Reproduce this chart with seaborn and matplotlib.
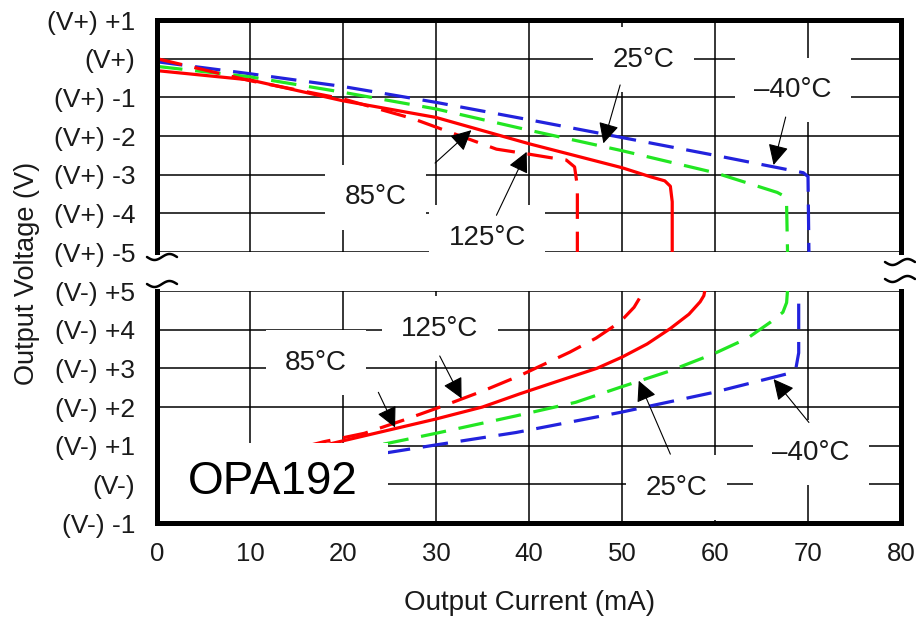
import numpy as np
import pandas as pd
import matplotlib
matplotlib.use("Agg")
import matplotlib.pyplot as plt
import seaborn as sns
from matplotlib.lines import Line2D
from matplotlib.patches import Rectangle

# ---------------- data ----------------
temps = ["-40°C", "25°C", "85°C", "125°C"]
colors = {"-40°C": "#2222dd", "25°C": "#22e622", "85°C": "#ff0000", "125°C": "#ff0000"}

# upper panel: output swing relative to V+ (sourcing)
top_i_m40 = [0, 10, 20, 30, 40, 50, 60, 69.5, 70.0, 70.1]
top_v_m40 = [-0.08, -0.39, -0.72, -1.13, -1.58, -2.04, -2.5, -2.95, -3.05, -5.0]
top_i_25 = [0, 10, 20, 30, 40, 50, 60, 66.7, 67.4, 67.7, 67.8]
top_v_25 = [-0.2, -0.47, -0.87, -1.3, -1.85, -2.38, -2.95, -3.46, -3.55, -3.8, -5.0]
top_i_85 = [0, 10, 20, 30, 40, 50, 53, 54.6, 55.2, 55.4, 55.4]
top_v_85 = [-0.31, -0.55, -1.09, -1.52, -2.2, -2.82, -3.05, -3.16, -3.3, -3.7, -5.0]
top_i_125 = [0, 10, 20, 27.5, 36.5, 40, 42.3, 44, 44.9, 45.2, 45.2]
top_v_125 = [0.0, -0.57, -1.04, -1.55, -2.34, -2.47, -2.56, -2.62, -2.8, -3.3, -5.0]

# lower panel: output swing relative to V- (sinking)
bot_i_m40 = [0, 24.8, 30, 38.6, 49.8, 59.9, 67.8, 68.7, 69.0, 69.0]
bot_v_m40 = [0.0, 0.82, 1.02, 1.34, 1.86, 2.38, 2.86, 3.0, 3.4, 5.0]
bot_i_25 = [0, 24.8, 30, 38.6, 45, 49.8, 55, 59.9, 63.5, 66.0, 67.3, 67.7, 67.8]
bot_v_25 = [0.0, 1.06, 1.32, 1.77, 2.12, 2.51, 2.92, 3.38, 3.78, 4.2, 4.45, 4.7, 5.02]
bot_i_85 = [0, 20.8, 30, 35, 39, 43, 47.3, 50, 52.7, 55.2, 57.2, 58.4, 58.8, 58.9]
bot_v_85 = [0.0, 1.17, 1.69, 2.0, 2.34, 2.66, 3.0, 3.29, 3.63, 4.03, 4.4, 4.72, 4.88, 5.0]
bot_i_125 = [0, 17.9, 22.3, 26.5, 30.8, 35.1, 39, 44.4, 47.2, 49.8, 51.3, 52.5]
bot_v_125 = [0.0, 1.10, 1.32, 1.66, 2.03, 2.42, 2.81, 3.42, 3.78, 4.2, 4.58, 5.06]

x_ticks = [0, 10, 20, 30, 40, 50, 60, 70, 80]
top_ticks = [1, 0, -1, -2, -3, -4, -5]
top_labels = ["(V+) +1", "(V+)", "(V+) -1", "(V+) -2", "(V+) -3", "(V+) -4", "(V+) -5"]
bot_ticks = [5, 4, 3, 2, 1, 0, -1]
bot_labels = ["(V-) +5", "(V-) +4", "(V-) +3", "(V-) +2", "(V-) +1", "(V-)", "(V-) -1"]

# annotations: label, text position, arrow start, arrow tip
top_notes = [
    ("25°C", (52.3, -0.03), (49.8, -0.68), (48.0, -2.19)),
    ("–40°C", (68.4, -0.81), (67.6, -1.51), (66.3, -2.75)),
    ("85°C", (23.5, -3.58), (29.9, -2.70), (33.8, -1.85)),
    ("125°C", (35.5, -4.63), (36.5, -4.05), (39.75, -2.41)),
]
bot_notes = [
    ("125°C", (30.4, 4.02), (30.4, 3.32), (32.75, 2.22)),
    ("85°C", (17.1, 3.15), (23.8, 2.38), (25.6, 1.47)),
    ("25°C", (55.9, -0.09), (55.2, 0.78), (51.8, 2.68)),
    ("–40°C", (70.3, 0.82), (70.1, 1.6), (66.3, 2.72)),
]


def long_frame(series):
    rows = []
    for t, xs, ys in series:
        for k, (a, b) in enumerate(zip(xs, ys)):
            rows.append({"I": a, "V": b, "T": t, "k": k})
    return pd.DataFrame(rows)


df_top = long_frame([("-40°C", top_i_m40, top_v_m40), ("25°C", top_i_25, top_v_25),
                     ("85°C", top_i_85, top_v_85), ("125°C", top_i_125, top_v_125)])
df_bot = long_frame([("-40°C", bot_i_m40, bot_v_m40), ("25°C", bot_i_25, bot_v_25),
                     ("85°C", bot_i_85, bot_v_85), ("125°C", bot_i_125, bot_v_125)])

# ---------------- style ----------------
sns.set_theme(style="white")
plt.rcParams["font.family"] = ["Liberation Sans", "DejaVu Sans"]
TXT = "#1a1a1a"
dash_map = {"-40°C": (8, 4), "25°C": (8, 4), "85°C": "", "125°C": (8, 4)}

W, H = 916, 618
fig = plt.figure(figsize=(W / 100, H / 100), dpi=100)
L, R = 157 / W, 901 / W
ax_top = fig.add_axes([L, 1 - 252 / H, R - L, (252 - 20) / H])
ax_bot = fig.add_axes([L, 1 - 523 / H, R - L, (523 - 291) / H])

for ax, df, ticks, labels, lims in [
    (ax_top, df_top, top_ticks, top_labels, (-5, 1)),
    (ax_bot, df_bot, bot_ticks, bot_labels, (-1, 5)),
]:
    sns.lineplot(data=df, x="I", y="V", hue="T", style="T", hue_order=temps,
                 style_order=temps, palette=colors, dashes=dash_map,
                 estimator=None, sort=False, units="T", linewidth=2.3,
                 legend=False, ax=ax, zorder=2)
    ax.set_xlim(0, 80)
    ax.set_ylim(*lims)
    ax.set_xticks(x_ticks)
    ax.set_yticks(ticks)
    ax.set_yticklabels(labels)
    ax.grid(True, color="black", linewidth=1.1)
    ax.set_axisbelow(True)
    ax.set_xlabel("")
    ax.set_ylabel("")
    ax.tick_params(axis="y", length=0, pad=15.5, labelsize=19, labelcolor=TXT)
    ax.tick_params(axis="x", length=0, pad=14, labelsize=18.5, labelcolor=TXT)
    for s in ax.spines.values():
        s.set_linewidth(3.6)
        s.set_color("black")
        s.set_zorder(6)
    ax.patch.set_alpha(0)

ax_top.spines["bottom"].set_visible(False)
ax_top.set_xticklabels([])
ax_bot.spines["top"].set_visible(False)


def add_notes(ax, notes):
    for label, tpos, start, tip in notes:
        ax.text(*tpos, label, fontsize=20, color=TXT, ha="center", va="center",
                zorder=3, bbox=dict(boxstyle="square,pad=0.7", fc="white", ec="none"))
        ax.annotate("", xy=tip, xytext=start, zorder=4,
                    arrowprops=dict(arrowstyle="-|>,head_length=0.9,head_width=0.45",
                                    mutation_scale=14, color="black", lw=0.8,
                                    shrinkA=0, shrinkB=0))


add_notes(ax_top, top_notes)
add_notes(ax_bot, bot_notes)

# white panel with the device name
ax_bot.add_patch(Rectangle((0.3, -1), 24.5, 2.08, fc="white", ec="none", zorder=3))
ax_bot.text(12.45, 0.05, "OPA192", fontsize=33, color="black", ha="center",
            va="center", zorder=4)

# axis titles
fig.text(27 / W, 1 - 273 / H, "Output Voltage (V)", rotation=90, fontsize=19.5,
         color=TXT, ha="center", va="center")
fig.text(530 / W, 1 - 603 / H, "Output Current (mA)", fontsize=20, color=TXT,
         ha="center", va="center")


# axis-break squiggles
def squiggle(cx, cy, half=15, amp=3.0):
    d = np.linspace(-half, half, 40)
    xs = (cx + d) / W
    ys = 1 - (cy - amp * np.sin(np.pi * d / half)) / H
    fig.add_artist(Line2D(xs, ys, transform=fig.transFigure, color="black", lw=1.8))


for cx, cy in [(162, 257), (162, 284), (900, 262), (900, 279)]:
    squiggle(cx, cy)

fig.savefig("out.png", dpi=100)
